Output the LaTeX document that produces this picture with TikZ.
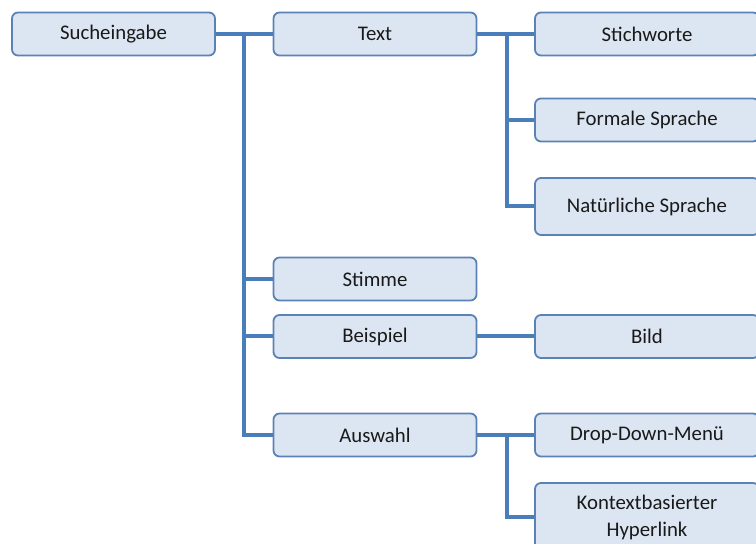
\documentclass[tikz,border=0pt]{standalone}
\usepackage{fontspec}
\setmainfont{Carlito}
\usepackage{tikz}
\usetikzlibrary{positioning, calc}
\definecolor{linkblue}{HTML}{4A7EBB}
\definecolor{boxfill}{HTML}{DCE6F2}
\definecolor{boxline}{HTML}{5A82B4}

\begin{document}
\begin{tikzpicture}[x=0.5pt, y=-0.5pt,
  item/.style={rectangle, draw=boxline, line width=0.9pt, fill=boxfill,
    rounded corners=3pt, minimum height=21.5pt, align=center,
    font=\fontsize{10.4}{13.5}\selectfont, text=black!90},
  small/.style={item, minimum width=101.5pt},
  wide/.style={item, minimum width=112pt},
  link/.style={line width=2pt, color=linkblue}
]
  \useasboundingbox (0,0) rectangle (756,544);
  \clip (0,0) rectangle (756,544);

  % first and second column
  \node[small] (such)    at (113.5,34)  {Sucheingabe};
  \node[small] (text)    at (375,34)    {Text};
  \node[small] (stimme)  at (375,279)   {Stimme};
  \node[small] (beisp)   at (375,336.5) {Beispiel};
  \node[small] (auswahl) at (375,435)   {Auswahl};

  % third column
  \node[wide] (stich)   at (647,34)    {Stichworte};
  \node[wide] (formal)  at (647,120)   {Formale Sprache};
  \node[wide, minimum height=28.5pt] (natur) at (647,206.5) {Natürliche Sprache};
  \node[wide] (bild)    at (647,336.5) {Bild};
  \node[wide] (drop)    at (647,435)   {Drop-Down-Menü};
  \node[wide, minimum height=34pt] (kontext) at (647,517) {Kontextbasierter\\ Hyperlink};

  \coordinate (j1) at (244,34);
  \coordinate (j2) at (507,34);
  \coordinate (j3) at (507,435);

  \draw[link] (such) -- (text);
  \draw[link] (j1) |- (stimme.west);
  \draw[link] (j1) |- (beisp.west);
  \draw[link] (j1) |- (auswahl.west);
  \draw[link] (text) -- (stich);
  \draw[link] (j2) |- (formal.west);
  \draw[link] (j2) |- (natur.west);
  \draw[link] (beisp) -- (bild);
  \draw[link] (auswahl) -- (drop);
  \draw[link] (j3) |- (kontext.west);
\end{tikzpicture}
\end{document}
